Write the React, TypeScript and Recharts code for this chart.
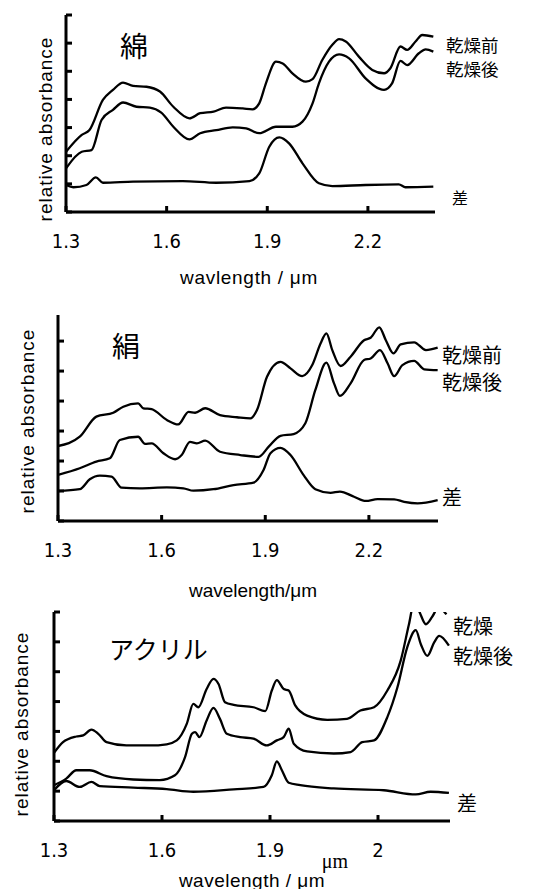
import React from 'react';
import { LineChart, Line, XAxis, YAxis } from 'recharts';

// wavelength (µm), relative absorbance (axis units)
const cottonBefore: [number, number][] = [
  [1.3, 2.14], [1.347, 2.74], [1.37, 2.91], [1.41, 3.98], [1.44, 4.34], [1.47, 4.6], [1.5, 4.48],
  [1.54, 4.45], [1.58, 4.28], [1.62, 3.74], [1.668, 3.33], [1.7, 3.51], [1.74, 3.57], [1.777, 3.71],
  [1.827, 3.68], [1.856, 3.65], [1.876, 3.86], [1.896, 4.57], [1.926, 5.34], [1.946, 5.28],
  [1.975, 4.93], [2.015, 4.63], [2.035, 4.72], [2.064, 5.4], [2.094, 5.94], [2.114, 6.14],
  [2.134, 6.06], [2.173, 5.52], [2.213, 5.05], [2.248, 4.93], [2.267, 5.11], [2.297, 5.88],
  [2.317, 5.76], [2.342, 6.06], [2.362, 6.29], [2.395, 6.23],
];
const cottonAfter: [number, number][] = [
  [1.3, 1.55], [1.347, 2.14], [1.376, 2.2], [1.406, 3.27], [1.44, 3.63], [1.47, 3.89], [1.51, 3.74],
  [1.55, 3.71], [1.584, 3.53], [1.62, 3.03], [1.668, 2.58], [1.7, 2.8], [1.748, 2.91], [1.797, 3.01],
  [1.837, 2.97], [1.876, 2.8], [1.926, 3.03], [1.975, 3.03], [2.005, 3.21], [2.035, 3.86],
  [2.054, 4.57], [2.084, 5.34], [2.114, 5.6], [2.144, 5.46], [2.193, 4.75], [2.248, 4.34],
  [2.272, 4.57], [2.297, 5.37], [2.317, 5.22], [2.352, 5.64], [2.372, 5.78], [2.395, 5.7],
];
const cottonDiff: [number, number][] = [
  [1.3, 0.96], [1.322, 0.88], [1.361, 0.96], [1.389, 1.23], [1.41, 1.04], [1.5, 1.08], [1.648, 1.1],
  [1.748, 1.04], [1.847, 1.1], [1.876, 1.37], [1.906, 2.32], [1.936, 2.65], [1.965, 2.44],
  [2.005, 1.73], [2.054, 1.02], [2.094, 0.92], [2.193, 0.96], [2.292, 0.98], [2.312, 0.88], [2.395, 0.9],
];

const silkBefore: [number, number][] = [
  [1.3, 2.5], [1.363, 2.81], [1.411, 3.48], [1.46, 3.61], [1.489, 3.81], [1.532, 3.92], [1.547, 3.76],
  [1.571, 3.73], [1.615, 3.37], [1.648, 3.22], [1.678, 3.64], [1.697, 3.61], [1.726, 3.76],
  [1.769, 3.53], [1.818, 3.46], [1.857, 3.42], [1.876, 3.7], [1.905, 4.81], [1.944, 5.31],
  [1.973, 5.09], [2.007, 4.83], [2.036, 5.2], [2.06, 5.92], [2.077, 6.26], [2.094, 5.7],
  [2.118, 5.17], [2.147, 5.48], [2.186, 6.03], [2.205, 6.11], [2.23, 6.46], [2.249, 6.03],
  [2.271, 5.59], [2.292, 5.89], [2.331, 5.96], [2.365, 5.7], [2.399, 5.78],
];
const silkAfter: [number, number][] = [
  [1.3, 1.54], [1.363, 1.76], [1.411, 1.98], [1.45, 2.09], [1.479, 2.7], [1.532, 2.81], [1.552, 2.57],
  [1.571, 2.59], [1.605, 2.26], [1.639, 2.06], [1.658, 2.2], [1.682, 2.64], [1.702, 2.59],
  [1.726, 2.68], [1.769, 2.31], [1.828, 2.2], [1.881, 2.14], [1.91, 2.48], [1.944, 2.84],
  [1.982, 2.9], [2.016, 3.26], [2.045, 4.37], [2.077, 5.28], [2.099, 4.59], [2.116, 4.17],
  [2.147, 4.59], [2.186, 5.37], [2.205, 5.42], [2.232, 5.7], [2.254, 5.26], [2.273, 4.83],
  [2.297, 5.2], [2.331, 5.34], [2.36, 5.06], [2.399, 5.03],
];
const silkDiff: [number, number][] = [
  [1.3, 1.0], [1.363, 1.06], [1.392, 1.39], [1.421, 1.51], [1.455, 1.48], [1.484, 1.11], [1.537, 1.09],
  [1.615, 1.12], [1.663, 1.09], [1.692, 1.01], [1.75, 1.06], [1.808, 1.2], [1.866, 1.28],
  [1.895, 1.7], [1.915, 2.26], [1.944, 2.44], [1.973, 2.2], [2.011, 1.53], [2.045, 1.06],
  [2.089, 0.94], [2.116, 0.98], [2.157, 0.81], [2.191, 0.67], [2.225, 0.73], [2.273, 0.72],
  [2.302, 0.64], [2.341, 0.59], [2.399, 0.7],
];

const acrylBefore: [number, number][] = [
  [1.3, 2.28], [1.325, 2.64], [1.362, 2.83], [1.381, 2.87], [1.404, 3.06], [1.423, 2.92], [1.446, 2.64],
  [1.501, 2.53], [1.566, 2.53], [1.613, 2.57], [1.641, 2.7], [1.669, 3.26], [1.687, 3.92],
  [1.701, 3.81], [1.724, 4.42], [1.743, 4.76], [1.757, 4.59], [1.775, 3.98], [1.799, 3.89],
  [1.854, 3.81], [1.887, 3.68], [1.905, 4.37], [1.919, 4.72], [1.938, 4.42], [1.952, 4.37],
  [1.97, 3.87], [2.003, 3.53], [2.059, 3.39], [2.114, 3.42], [2.151, 3.7], [2.189, 3.81],
  [2.226, 4.37], [2.263, 5.37], [2.286, 6.59], [2.3, 7.3], [2.314, 7.03], [2.333, 6.59],
  [2.351, 6.85], [2.368, 7.15], [2.39, 6.92],
];
const acrylAfter: [number, number][] = [
  [1.3, 1.2], [1.334, 1.42], [1.362, 1.7], [1.399, 1.7], [1.446, 1.5], [1.52, 1.39], [1.594, 1.37],
  [1.636, 1.53], [1.664, 2.14], [1.683, 2.92], [1.692, 2.98], [1.704, 2.81], [1.724, 3.37],
  [1.743, 3.79], [1.761, 3.42], [1.78, 2.92], [1.817, 2.81], [1.854, 2.76], [1.891, 2.53],
  [1.919, 2.7], [1.938, 2.81], [1.952, 3.09], [1.966, 2.59], [2.003, 2.33], [2.077, 2.26],
  [2.124, 2.31], [2.156, 2.64], [2.189, 2.7], [2.226, 3.48], [2.254, 4.48], [2.281, 5.81],
  [2.305, 6.39], [2.319, 5.92], [2.337, 5.53], [2.356, 5.98], [2.37, 6.2], [2.397, 5.87],
];
const acrylDiff: [number, number][] = [
  [1.3, 1.03], [1.334, 1.34], [1.371, 1.14], [1.404, 1.31], [1.427, 1.17], [1.52, 1.12], [1.613, 1.07],
  [1.687, 0.98], [1.799, 1.06], [1.882, 1.14], [1.905, 1.53], [1.919, 2.0], [1.933, 1.7],
  [1.952, 1.28], [1.984, 1.2], [2.077, 1.09], [2.216, 1.03], [2.305, 0.89], [2.346, 0.98], [2.397, 0.94],
];

const xTicks = [1.3, 1.6, 1.9, 2.2];
const xTickLabels12 = ['1.3', '1.6', '1.9', '2.2'];
const xTickLabels3 = ['1.3', '1.6', '1.9', '2'];
const yTicks7 = [0, 1, 2, 3, 4, 5, 6, 7];
const yTicks6 = [0, 1, 2, 3, 4, 5, 6];

const toPts = (arr: [number, number][]) => arr.map(([x, y]) => ({ x, y }));

const tickFamily = '"Liberation Sans Narrow", "DejaVu Sans Condensed", sans-serif';
const jp = '"Noto Sans CJK JP", sans-serif';
const latin = '"Liberation Sans", Arial, sans-serif';
const MARK = 6;

type PanelProps = {
  top: number; height: number;
  margin: { top: number; right: number; bottom: number; left: number };
  yMax: number; yTicks: number[]; tickLabels: string[]; labelGap: number;
  series: [number, number][][];
};

// axes take 1px each, so margins are given one px short
function Panel({ top, height, margin, yMax, yTicks, tickLabels, labelGap, series }: PanelProps) {
  const m = { ...margin, left: margin.left - 1, bottom: margin.bottom - 1 };
  const axisX = margin.left;
  const axisY = height - margin.bottom;

  // inward mark on the x axis plus the label under it
  const XTick = (props: any) => {
    const { x, payload } = props;
    const label = tickLabels[xTicks.indexOf(payload.value)] ?? '';
    return (
      <g>
        <line x1={x} x2={x} y1={axisY - MARK} y2={axisY} stroke="#000" strokeWidth={3} />
        <text x={x} y={axisY + labelGap} textAnchor="middle" fontSize={20} fontFamily={tickFamily} fill="#000">{label}</text>
      </g>
    );
  };
  // inward mark on the y axis, no label
  const YTick = (props: any) => (
    <line x1={axisX} x2={axisX + MARK} y1={props.y} y2={props.y} stroke="#000" strokeWidth={3} />
  );

  return (
    <div style={{ position: 'absolute', left: 0, top }}>
      <LineChart width={549} height={height} margin={m}>
        <XAxis
          type="number" dataKey="x" domain={[1.3, 2.4]} ticks={xTicks} allowDataOverflow
          height={1} interval={0} tickLine={false} tick={XTick}
          axisLine={{ stroke: '#000', strokeWidth: 3 }}
        />
        <YAxis
          type="number" domain={[0, yMax]} ticks={yTicks} allowDataOverflow width={1}
          interval={0} tickLine={false} tick={YTick}
          axisLine={{ stroke: '#000', strokeWidth: 3 }}
        />
        {series.map((s, i) => (
          <Line key={i} data={toPts(s)} dataKey="y" type="monotone" stroke="#000"
            strokeWidth={2.3} dot={false} activeDot={false} isAnimationActive={false} />
        ))}
      </LineChart>
    </div>
  );
}

const abs = (left: number, top: number, size: number, family: string, extra: React.CSSProperties = {}): React.CSSProperties => ({
  position: 'absolute', left, top, fontSize: size, fontFamily: family, lineHeight: 1, whiteSpace: 'nowrap', color: '#000', ...extra,
});

const centered = (cx: number, cy: number, size: number, family: string, rotate = 0, extra: React.CSSProperties = {}): React.CSSProperties => ({
  position: 'absolute', left: cx, top: cy, fontSize: size, fontFamily: family, lineHeight: 1, whiteSpace: 'nowrap', color: '#000',
  transform: `translate(-50%, -50%) rotate(${rotate}deg)`, ...extra,
});

export default function App() {
  return (
    <div style={{ position: 'absolute', left: 0, top: 0, width: 549, height: 889, background: '#fff', overflow: 'hidden' }}>
      {/* 綿 */}
      <Panel top={0} height={290} margin={{ top: 15, right: 114, bottom: 78, left: 66 }}
        yMax={7} yTicks={yTicks7} tickLabels={xTickLabels12} labelGap={36}
        series={[cottonBefore, cottonAfter, cottonDiff]} />
      <div style={abs(120, 31, 28, jp)}>綿</div>
      <div style={abs(446, 36, 17.5, jp)}>乾燥前</div>
      <div style={abs(446, 60, 17.5, jp)}>乾燥後</div>
      <div style={abs(452, 189, 16, jp)}>差</div>
      <div style={centered(45, 129, 19, latin, -90, { letterSpacing: 1 })}>relative absorbance</div>
      <div style={centered(249, 277, 19, latin, 0, { letterSpacing: 0.7 })}>wavlength / μm</div>

      {/* 絹 */}
      <Panel top={290} height={300} margin={{ top: 25, right: 111, bottom: 69, left: 58 }}
        yMax={6.87} yTicks={yTicks6} tickLabels={xTickLabels12} labelGap={36}
        series={[silkBefore, silkAfter, silkDiff]} />
      <div style={abs(112, 331, 28, jp)}>絹</div>
      <div style={abs(442, 345, 20, jp)}>乾燥前</div>
      <div style={abs(442, 372, 20, jp)}>乾燥後</div>
      <div style={abs(442, 487, 20, jp)}>差</div>
      <div style={centered(27, 421, 19, latin, -90, { letterSpacing: 1 })}>relative absorbance</div>
      <div style={centered(253, 590, 19, latin)}>wavelength/μm</div>

      {/* アクリル */}
      <Panel top={590} height={299} margin={{ top: 22, right: 99, bottom: 68, left: 54 }}
        yMax={7} yTicks={yTicks7} tickLabels={xTickLabels3} labelGap={36}
        series={[acrylBefore, acrylAfter, acrylDiff]} />
      <div style={abs(109, 636, 25, jp)}>アクリル</div>
      <div style={abs(453, 616, 20, jp)}>乾燥</div>
      <div style={abs(453, 646, 20, jp)}>乾燥後</div>
      <div style={abs(457, 793, 20, jp)}>差</div>
      <div style={centered(21, 724, 19, latin, -90, { letterSpacing: 1 })}>relative absorbance</div>
      <div style={centered(335, 861, 20, '"Liberation Serif", "Times New Roman", serif')}>μm</div>
      <div style={centered(252, 880, 19, latin, 0, { letterSpacing: 0.5 })}>wavelength / μm</div>
    </div>
  );
}
